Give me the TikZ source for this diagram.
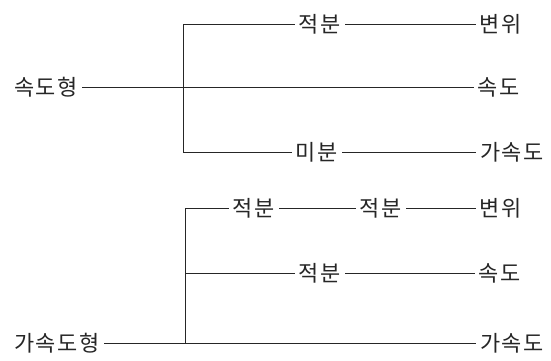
\documentclass[tikz,border=0pt]{standalone}
\usepackage{fontspec}
\newfontfamily\kor[LetterSpace=8]{Noto Sans CJK KR}
\begin{document}
\begin{tikzpicture}[x=1bp,y=-1bp,
  lbl/.style={inner xsep=4bp, inner ysep=0pt, font=\kor\fontsize{22}{25}\selectfont, text=black!85},
  ln/.style={line width=1bp, draw=black!85}]
\useasboundingbox (0,0) rectangle (551,360);
% top diagram
\node[lbl] (a0) at (46,87) {속도형};
\node[lbl] (aint) at (320,24) {적분};
\node[lbl] (adisp) at (501,24) {변위};
\node[lbl] (avel) at (499,87) {속도};
\node[lbl] (adiff) at (317,152) {미분};
\node[lbl] (aacc) at (512,152) {가속도};
\coordinate (aj1) at (183,24);
\coordinate (aj2) at (183,152);
\draw[ln] (a0.east) -- (avel.west);
\draw[ln] (aint.west) -- (aj1) -- (aj2) -- (adiff.west);
\draw[ln] (aint.east) -- (adisp.west);
\draw[ln] (adiff.east) -- (aacc.west);
% bottom diagram
\node[lbl] (b0) at (57,343) {가속도형};
\node[lbl] (bint1) at (254,208) {적분};
\node[lbl] (bint2) at (381,208) {적분};
\node[lbl] (bdisp) at (501,208) {변위};
\node[lbl] (bint3) at (320,273) {적분};
\node[lbl] (bvel) at (500,273) {속도};
\node[lbl] (bacc) at (512,343) {가속도};
\coordinate (bj1) at (185,208);
\coordinate (bj2) at (185,273);
\coordinate (bj3) at (185,343);
\draw[ln] (b0.east) -- (bacc.west);
\draw[ln] (bint1.west) -- (bj1) -- (bj3);
\draw[ln] (bint1.east) -- (bint2.west);
\draw[ln] (bint2.east) -- (bdisp.west);
\draw[ln] (bj2) -- (bint3.west);
\draw[ln] (bint3.east) -- (bvel.west);
\end{tikzpicture}
\end{document}
